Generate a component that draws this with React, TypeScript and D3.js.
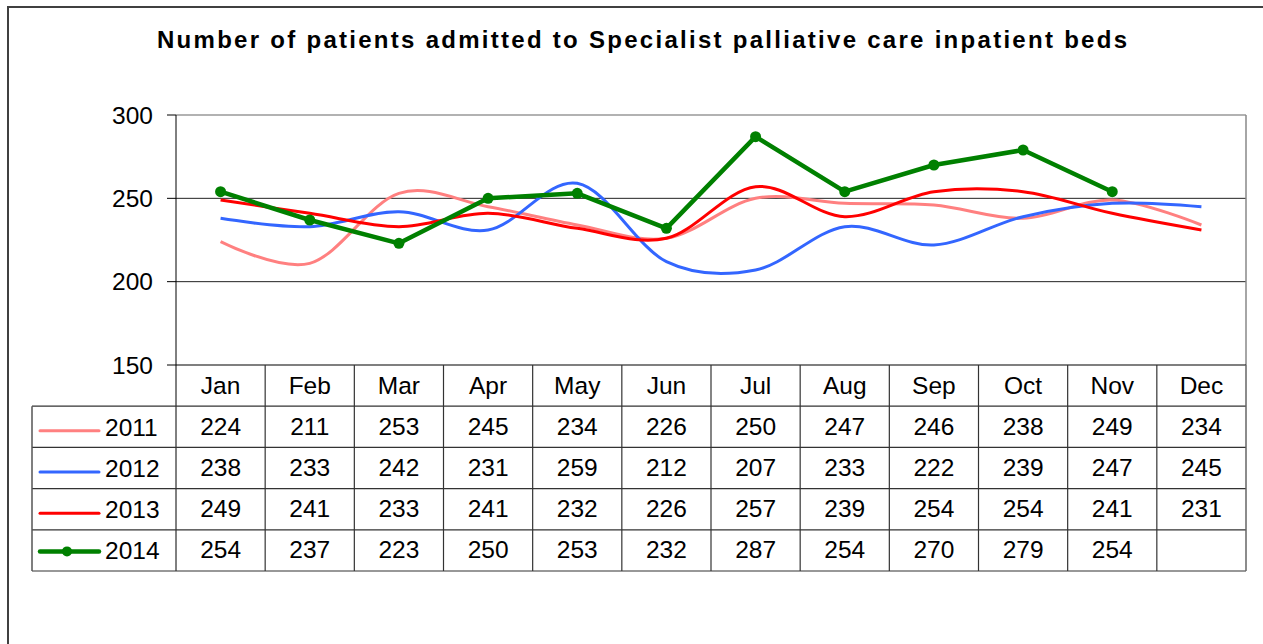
import * as d3 from 'd3'
import React, { useRef, useEffect } from 'react'

const months = ['Jan', 'Feb', 'Mar', 'Apr', 'May', 'Jun', 'Jul', 'Aug', 'Sep', 'Oct', 'Nov', 'Dec']
const years = ['2011', '2012', '2013', '2014']
const v2011 = [224, 211, 253, 245, 234, 226, 250, 247, 246, 238, 249, 234]
const v2012 = [238, 233, 242, 231, 259, 212, 207, 233, 222, 239, 247, 245]
const v2013 = [249, 241, 233, 241, 232, 226, 257, 239, 254, 254, 241, 231]
const v2014 = [254, 237, 223, 250, 253, 232, 287, 254, 270, 279, 254, null]
const yTicks = [150, 200, 250, 300]
const colors = ['#ff8080', '#3366ff', '#ff0000', '#008000']
const title = 'Number of patients admitted to Specialist palliative care inpatient beds'

export default function App() {
  const svgRef = useRef(null)
  const width = 1263
  const height = 644

  function renderChart() {
    const svg = d3.select(svgRef.current)
    svg.selectAll('*').remove()
    const font = 'Liberation Sans, Arial, sans-serif'
    const fs = 24.5

    const left = 176, right = 1246, top = 115, bottom = 365
    const rowH = 41.2
    const legendLeft = 32

    // outer frame
    svg.append('rect').attr('x', 8).attr('y', 7).attr('width', 1400).attr('height', 800)
      .attr('fill', 'white').attr('stroke', '#404040').attr('stroke-width', 2)

    svg.append('text').text(title)
      .attr('x', 157).attr('y', 48)
      .attr('textLength', 970).attr('lengthAdjust', 'spacing')
      .attr('font-family', font).attr('font-weight', 'bold').attr('font-size', 24)
      .attr('fill', 'black')

    const x = d3.scaleBand<string>().domain(months).range([left, right])
    const y = d3.scaleLinear().domain([150, 300]).range([bottom, top])
    const cx = (i: number) => x(months[i])! + x.bandwidth() / 2

    // gridlines
    svg.selectAll('line.grid').data(yTicks.slice(1, 3)).join('line')
      .attr('x1', left).attr('x2', right)
      .attr('y1', (d) => y(d)).attr('y2', (d) => y(d))
      .attr('stroke', '#222').attr('stroke-width', 1)
    // plot frame top/right
    svg.append('line').attr('x1', left).attr('x2', right).attr('y1', top).attr('y2', top)
      .attr('stroke', '#999').attr('stroke-width', 1.5)
    svg.append('line').attr('x1', right).attr('x2', right).attr('y1', top).attr('y2', bottom)
      .attr('stroke', '#888').attr('stroke-width', 1.5)

    // y axis
    svg.append('line').attr('x1', left).attr('x2', left).attr('y1', top).attr('y2', bottom + rowH * 5)
      .attr('stroke', 'black').attr('stroke-width', 1)
    svg.selectAll('line.tick').data(yTicks).join('line')
      .attr('x1', left - 9).attr('x2', left)
      .attr('y1', (d) => y(d)).attr('y2', (d) => y(d))
      .attr('stroke', 'black').attr('stroke-width', 1)
    svg.selectAll('text.ytick').data(yTicks).join('text')
      .attr('x', 153).attr('y', (d) => y(d) + 8.5)
      .attr('text-anchor', 'end').attr('font-family', font).attr('font-size', fs)
      .text((d) => d)

    // table
    const tb = svg.append('g')
    const tableBottom = bottom + rowH * 5
    tb.append('line').attr('x1', left).attr('x2', right).attr('y1', bottom).attr('y2', bottom)
      .attr('stroke', 'black').attr('stroke-width', 1.2)
    for (let r = 1; r <= 5; r++) {
      tb.append('line').attr('x1', legendLeft).attr('x2', right)
        .attr('y1', bottom + rowH * r).attr('y2', bottom + rowH * r)
        .attr('stroke', '#333').attr('stroke-width', 1.2)
    }
    tb.append('line').attr('x1', legendLeft).attr('x2', legendLeft)
      .attr('y1', bottom + rowH).attr('y2', tableBottom).attr('stroke', '#555').attr('stroke-width', 1.5)
    months.forEach((m, i) => {
      const xe = x(m)! + x.bandwidth()
      tb.append('line').attr('x1', xe).attr('x2', xe).attr('y1', bottom).attr('y2', tableBottom)
        .attr('stroke', i === 11 ? '#666' : '#333').attr('stroke-width', i === 11 ? 1.5 : 1.2)
      tb.append('text').text(m).attr('x', cx(i)).attr('y', bottom + 28.5)
        .attr('text-anchor', 'middle').attr('font-family', font).attr('font-size', fs)
    })

    const series = [v2011, v2012, v2013, v2014]
    series.forEach((vals, s) => {
      const ry = bottom + rowH * (s + 1)
      vals.forEach((v, i) => {
        if (v == null) return
        tb.append('text').text(v).attr('x', cx(i)).attr('y', ry + 28.5)
          .attr('text-anchor', 'middle').attr('font-family', font).attr('font-size', fs)
      })
      const ly = ry + rowH / 2 + (s === 3 ? 1 : 4)
      tb.append('line').attr('x1', 40).attr('x2', 99).attr('y1', ly).attr('y2', ly)
        .attr('stroke', colors[s]).attr('stroke-width', s === 3 ? 4.5 : 3).attr('stroke-linecap', 'round')
      if (s === 3) tb.append('circle').attr('cx', 67).attr('cy', ly).attr('r', 5).attr('fill', colors[s])
      tb.append('text').text(years[s]).attr('x', 105).attr('y', ry + 29.5)
        .attr('font-family', font).attr('font-size', fs)
    })

    // lines
    const smooth = d3.line<number>().x((d, i) => cx(i)).y((d) => y(d)).curve(d3.curveCardinal.tension(0))
    ;[v2011, v2012, v2013].forEach((vals, s) => {
      svg.append('path').attr('d', smooth(vals)).attr('fill', 'none')
        .attr('stroke', colors[s]).attr('stroke-width', 3)
    })
    const pts = v2014.map((v, i) => ({ v, i })).filter((d) => d.v != null) as { v: number, i: number }[]
    const straight = d3.line<{ v: number, i: number }>().x((d) => cx(d.i)).y((d) => y(d.v))
    svg.append('path').attr('d', straight(pts)).attr('fill', 'none')
      .attr('stroke', colors[3]).attr('stroke-width', 4.5).attr('stroke-linejoin', 'round')
    svg.selectAll('circle.m').data(pts).join('circle')
      .attr('cx', (d) => cx(d.i)).attr('cy', (d) => y(d.v)).attr('r', 5.5).attr('fill', colors[3])
  }

  useEffect(() => {
    renderChart()
  }, [])

  return (
    <div style={{ position: 'absolute', left: 0, top: 0 }}>
      <svg ref={svgRef} width={width} height={height} style={{ display: 'block' }} />
    </div>
  )
}
